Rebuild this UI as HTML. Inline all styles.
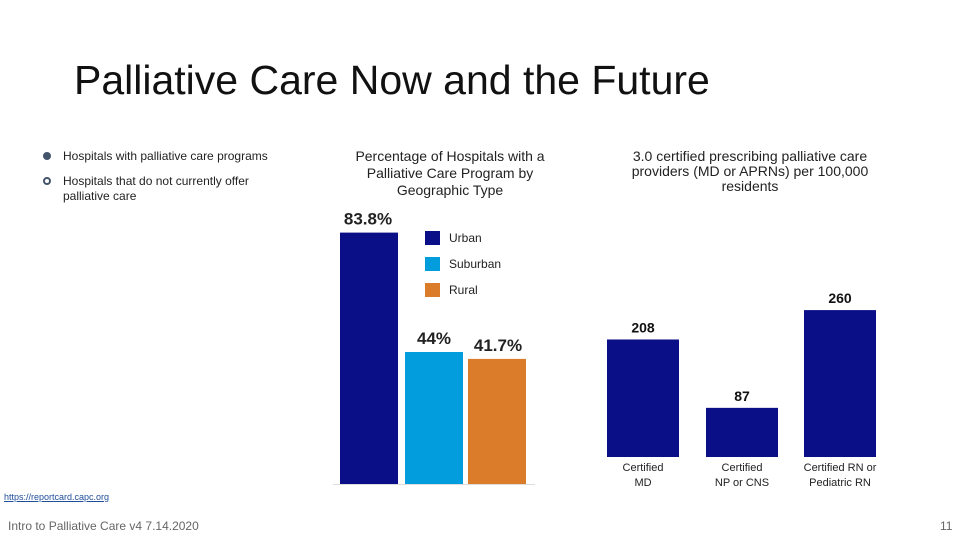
<!DOCTYPE html>
<html><head><meta charset="utf-8"><style>
body{margin:0;width:960px;height:540px;background:#fff;font-family:"Liberation Sans",sans-serif;position:relative;overflow:hidden}
.t{position:absolute;color:#222}
</style></head><body>
<div class="t" style="left:74px;top:57px;font-size:41px;color:#111">Palliative Care Now and the Future</div>
<div style="position:absolute;left:43px;top:152px;width:8px;height:8px;border-radius:50%;background:#44546a"></div>
<div class="t" style="left:63px;top:149px;font-size:12px">Hospitals with palliative care programs</div>
<div style="position:absolute;left:43px;top:177px;width:4px;height:4px;border-radius:50%;border:2px solid #44546a"></div>
<div class="t" style="left:63px;top:174px;font-size:12px;line-height:15px">Hospitals that do not currently offer<br>palliative care</div>
<div class="t" style="left:335px;top:148px;width:230px;text-align:center;font-size:14px;line-height:17px">Percentage of Hospitals with a Palliative Care Program by Geographic Type</div>
<div class="t" style="left:605px;top:149px;width:290px;text-align:center;font-size:14px;line-height:15px">3.0 certified prescribing palliative care providers (MD or APRNs) per 100,000 residents</div>
<svg id="c" width="960" height="540" style="position:absolute;left:0;top:0"></svg>
<div class="t" style="left:4px;top:492px;font-size:9px;color:#1f4e99;text-decoration:underline">https://reportcard.capc.org</div>
<div class="t" style="left:8px;top:519px;font-size:12px;color:#666">Intro to Palliative Care v4 7.14.2020</div>
<div class="t" style="left:940px;top:519px;font-size:12px;color:#666">11</div>
<script>
const geoCats=["Urban","Suburban","Rural"];
const geoVals=[83.8,44,41.7];
const geoLabels=["83.8%","44%","41.7%"];
const provCats=[["Certified","MD"],["Certified","NP or CNS"],["Certified RN or","Pediatric RN"]];
const provVals=[208,87,260];
const svg=document.getElementById('c');
const NS="http://www.w3.org/2000/svg";
function mk(tag,a){const e=document.createElementNS(NS,tag);for(const k in a)e.setAttribute(k,a[k]);svg.appendChild(e);return e;}
const geoColors=["#0a0f87","#019ddc","#db7c2a"];
const gBase=484,gScale=3.0,gX=[340,405,468],gW=58;
const gy=v=>gBase-v*gScale;
mk('line',{x1:333,x2:535,y1:gBase+0.5,y2:gBase+0.5,stroke:'#ddd'});
geoVals.forEach((v,i)=>{
 const r=mk('rect',{x:gX[i],y:gy(v),width:gW,height:gBase-gy(v),fill:geoColors[i]});
 
 
 const t=mk('text',{x:gX[i]+gW/2+(i==0?-1:i==2?1:0),y:gy(v)-8,'text-anchor':'middle','font-size':17,'font-weight':'bold',fill:'#222'});
 t.textContent=geoLabels[i];
 
 
 const s=mk('rect',{x:425,y:231+i*26,width:15,height:14,fill:geoColors[i]});
 
 
 const lt=mk('text',{x:449,y:242+i*26,'font-size':12,fill:'#222'});
 lt.textContent=geoCats[i];
 
 
});
const pBase=457,pScale=0.565,pX=[607,706,804],pW=72;
const py=v=>pBase-v*pScale;
provVals.forEach((v,i)=>{
 const r=mk('rect',{x:pX[i],y:py(v),width:pW,height:pBase-py(v),fill:'#0a0f87'});
 
 
 const t=mk('text',{x:pX[i]+pW/2,y:py(v)-7,'text-anchor':'middle','font-size':14,'font-weight':'bold',fill:'#111'});
 t.textContent=String(v);
 
 
 provCats[i].forEach((l,j)=>{
  const c=mk('text',{x:pX[i]+pW/2,y:471+j*15,'text-anchor':'middle','font-size':11,fill:'#222'});
  c.textContent=l;
  
  
 });
});
</script>
</body></html>
